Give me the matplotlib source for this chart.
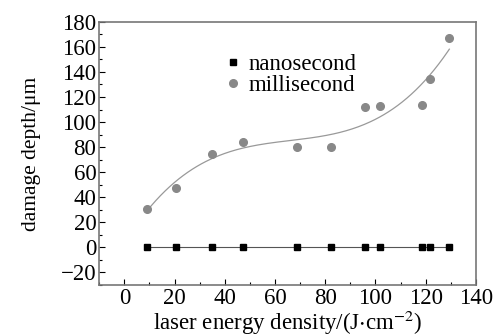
import numpy as np
import matplotlib
matplotlib.use('Agg')
from matplotlib import pyplot as plt
from matplotlib.ticker import MultipleLocator

plt.rcParams['font.family'] = ['Liberation Serif', 'DejaVu Serif']
plt.rcParams['mathtext.fontset'] = 'stix'

# 数据
x_energy = [8.9, 20.6, 35.1, 47.1, 68.9, 82.4, 95.7, 101.8, 118.4, 121.7, 129.4]
nano_depth = [0, 0, 0, 0, 0, 0, 0, 0, 0, 0, 0]
milli_depth = [30.8, 47.3, 74.3, 83.9, 79.7, 80.2, 112.4, 113.1, 113.4, 134.7, 166.8]

fig = plt.figure(figsize=(5.01, 3.36), dpi=100)
ax = fig.add_axes([0.198, 0.152, 0.752, 0.783])

# 拟合曲线（三次多项式）
coef = np.polyfit(x_energy, milli_depth, 3)
xf = np.linspace(min(x_energy), max(x_energy), 200)
ax.plot(xf, np.polyval(coef, xf), color='#999999', lw=0.9)

ax.plot(x_energy, nano_depth, color='#555555', lw=0.8)
ax.plot(x_energy, nano_depth, 's', color='black', ms=5, ls='none', label='nanosecond')
ax.plot(x_energy, milli_depth, 'o', color='#888888', ms=5.5, ls='none', label='millisecond')

ax.set_xlim(-10, 140)
ax.set_ylim(-30, 180)
ax.xaxis.set_major_locator(MultipleLocator(20))
ax.xaxis.set_minor_locator(MultipleLocator(10))
ax.yaxis.set_major_locator(MultipleLocator(20))
ax.yaxis.set_minor_locator(MultipleLocator(10))
ax.tick_params(which='both', direction='in', top=False, right=False, labelsize=16.5, pad=2)
ax.tick_params(which='major', length=4, width=0.8)
ax.tick_params(which='minor', length=2, width=0.8)
for s in ax.spines.values():
    s.set_color('#777777')
    s.set_linewidth(1.2)

ax.set_xlabel('laser energy density/(J$\\cdot$cm$^{-2}$)', fontsize=16.5, labelpad=0)
ax.set_ylabel('damage depth/μm', fontsize=15.5, labelpad=14)

ax.legend(loc='upper left', bbox_to_anchor=(0.275, 0.94), frameon=False, fontsize=16.5,
          handletextpad=0.1, labelspacing=0.0, handlelength=1.2, borderpad=0.2)

plt.savefig('out.png')
